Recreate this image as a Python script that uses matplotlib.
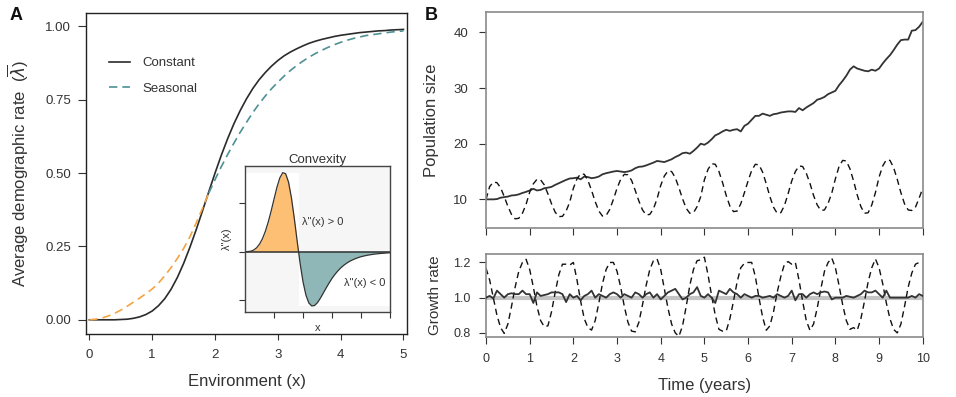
import numpy as np
import matplotlib
matplotlib.use("Agg")
import matplotlib.pyplot as plt
from matplotlib.patches import Rectangle

plt.rcParams['font.family'] = ['Liberation Sans', 'DejaVu Sans']
plt.rcParams['mathtext.fontset'] = 'dejavusans'

# ---- Panel A: average demographic rate along the environment ----
env_x = np.linspace(0, 5, 51)
constant_rate = [0.000, 0.000, 0.000, 0.000, 0.000, 0.001, 0.002, 0.005, 0.010, 0.018,
                 0.030, 0.048, 0.072, 0.104, 0.144, 0.192, 0.247, 0.307, 0.371, 0.436,
                 0.500, 0.561, 0.617, 0.668, 0.713, 0.753, 0.788, 0.818, 0.843, 0.865,
                 0.884, 0.900, 0.913, 0.924, 0.934, 0.943, 0.950, 0.956, 0.961, 0.966,
                 0.970, 0.973, 0.976, 0.979, 0.981, 0.983, 0.985, 0.986, 0.988, 0.989,
                 0.990]
seasonal_rate = [0.000, 0.002, 0.006, 0.013, 0.022, 0.033, 0.046, 0.060, 0.074, 0.089,
                 0.105, 0.125, 0.150, 0.178, 0.209, 0.243, 0.283, 0.330, 0.380, 0.432,
                 0.478, 0.522, 0.563, 0.602, 0.639, 0.673, 0.706, 0.736, 0.763, 0.788,
                 0.810, 0.831, 0.850, 0.867, 0.882, 0.896, 0.908, 0.919, 0.929, 0.938,
                 0.946, 0.953, 0.959, 0.964, 0.969, 0.972, 0.975, 0.978, 0.981, 0.983,
                 0.985]
# second derivative of the rate (inset)
convexity = [0.000, 0.001, 0.005, 0.017, 0.040, 0.078, 0.134, 0.209, 0.306, 0.419,
             0.543, 0.664, 0.762, 0.816, 0.805, 0.718, 0.556, 0.341, 0.104, -0.123,
             -0.313, -0.449, -0.530, -0.561, -0.556, -0.526, -0.480, -0.427, -0.374, -0.323,
             -0.276, -0.235, -0.199, -0.168, -0.142, -0.120, -0.101, -0.086, -0.073, -0.062,
             -0.052, -0.045, -0.038, -0.033, -0.028, -0.024, -0.021, -0.018, -0.016, -0.013,
             -0.012]
split_idx = 19  # seasonal curve drawn orange below the crossing, teal above

# ---- Panel B: monthly time series over 10 years ----
months = np.arange(121)
pop_constant = [10.0, 10.0, 10.0, 10.05, 10.3, 10.4, 10.5, 10.7, 10.75, 10.9, 11.15, 11.35,
                11.6, 11.9, 11.6, 11.7, 12.0, 12.1, 12.25, 12.6, 12.9, 13.2, 13.5, 13.75,
                13.8, 13.9, 13.6, 14.1, 14.0, 13.8, 13.9, 14.1, 14.5, 14.7, 14.85, 15.0,
                15.1, 15.0, 14.9, 15.0, 15.2, 15.6, 15.85, 15.9, 16.1, 16.35, 16.6, 16.9,
                16.8, 16.7, 16.95, 17.2, 17.6, 17.9, 18.3, 18.4, 18.2, 18.7, 19.3, 20.0,
                19.8, 20.2, 20.8, 21.5, 21.8, 22.2, 22.5, 22.3, 22.5, 22.6, 22.2, 23.2,
                23.6, 24.3, 25.0, 25.0, 25.4, 25.2, 25.0, 25.3, 25.4, 25.6, 25.7, 25.8,
                25.8, 25.7, 26.4, 26.0, 26.5, 26.9, 27.3, 27.9, 28.1, 28.4, 28.9, 29.2,
                29.5, 30.5, 31.3, 32.2, 33.3, 33.9, 33.5, 33.3, 33.1, 33.0, 33.3, 33.1,
                33.5, 34.4, 35.2, 35.9, 36.8, 37.8, 38.6, 38.7, 38.7, 40.3, 40.4, 41.0,
                41.9]
pop_seasonal = [10.0, 12.3, 13.1, 13.0, 12.1, 10.5, 8.75, 7.3, 6.5, 6.6, 7.5, 9.1,
                11.3, 12.8, 13.6, 13.5, 12.6, 11.0, 9.2, 7.7, 6.9, 6.95, 7.9, 9.5,
                12.0, 13.7, 14.6, 14.5, 13.4, 11.6, 9.6, 7.9, 7.0, 7.1, 8.2, 10.0,
                12.0, 13.6, 14.5, 14.4, 13.4, 11.6, 9.7, 8.1, 7.2, 7.3, 8.3, 10.1,
                12.5, 14.2, 15.1, 15.0, 13.9, 12.1, 10.1, 8.4, 7.5, 7.6, 8.7, 10.5,
                13.5, 15.4, 16.4, 16.3, 15.0, 13.0, 10.7, 8.8, 7.8, 7.9, 9.2, 11.2,
                13.3, 15.2, 16.3, 16.2, 14.9, 12.8, 10.5, 8.6, 7.5, 7.6, 8.9, 11.0,
                13.3, 15.0, 16.0, 15.9, 14.7, 12.9, 10.7, 9.0, 8.0, 8.1, 9.3, 11.1,
                13.7, 15.9, 17.0, 16.9, 15.5, 13.3, 10.8, 8.7, 7.5, 7.6, 9.0, 11.2,
                14.0, 16.0, 17.1, 17.0, 15.7, 13.6, 11.2, 9.2, 8.1, 8.0, 8.6, 10.2,
                12.0]
growth_constant = [1.00, 1.01, 0.995, 1.04, 1.02, 1.00, 1.02, 1.025, 1.02, 1.02, 1.04, 1.02,
                   1.02, 0.97, 1.03, 1.01, 1.015, 1.02, 1.03, 1.03, 1.03, 1.02, 0.975, 1.02,
                   1.00, 1.01, 0.985, 1.01, 1.02, 1.04, 1.00, 1.02, 1.01, 1.00, 1.02, 1.03,
                   1.02, 1.00, 1.02, 1.01, 1.00, 1.03, 1.02, 1.00, 1.02, 1.03, 1.00, 1.02,
                   0.99, 1.01, 1.03, 1.04, 1.05, 1.02, 0.99, 1.00, 1.02, 1.03, 1.06, 1.01,
                   1.00, 1.02, 1.00, 0.97, 1.04, 1.03, 1.02, 1.05, 1.03, 1.02, 1.00, 1.02,
                   1.01, 1.00, 1.01, 1.01, 1.00, 1.005, 1.01, 1.00, 1.02, 1.01, 1.00, 1.01,
                   1.04, 0.985, 1.02, 1.02, 1.00, 1.02, 1.03, 1.02, 1.03, 1.035, 1.03, 0.99,
                   1.00, 1.00, 1.00, 1.01, 1.005, 1.00, 1.01, 1.02, 1.04, 1.03, 1.03, 1.04,
                   1.02, 1.00, 1.04, 1.00, 1.00, 1.00, 1.00, 1.00, 1.00, 1.01, 1.00, 1.02,
                   1.01]
growth_seasonal = [1.167, 1.10, 1.00, 0.90, 0.83, 0.797, 0.85, 0.95, 1.06, 1.15, 1.20, 1.218,
                   1.16, 1.06, 0.95, 0.87, 0.835, 0.84, 0.92, 1.03, 1.13, 1.19, 1.19, 1.185,
                   1.20, 1.10, 0.98, 0.88, 0.83, 0.816, 0.87, 0.97, 1.08, 1.16, 1.20, 1.20,
                   1.15, 1.06, 0.95, 0.86, 0.81, 0.806, 0.86, 0.96, 1.07, 1.16, 1.21, 1.22,
                   1.16, 1.05, 0.94, 0.85, 0.80, 0.78, 0.84, 0.95, 1.07, 1.16, 1.21, 1.215,
                   1.23, 1.13, 1.01, 0.90, 0.82, 0.81, 0.81, 0.88, 0.98, 1.09, 1.17, 1.195,
                   1.20, 1.20, 1.12, 1.00, 0.89, 0.815, 0.84, 0.92, 1.03, 1.12, 1.19, 1.205,
                   1.19, 1.20, 1.10, 0.98, 0.87, 0.815, 0.85, 0.94, 1.05, 1.15, 1.20, 1.225,
                   1.17, 1.07, 0.96, 0.87, 0.82, 0.83, 0.815, 0.88, 0.98, 1.09, 1.17, 1.22,
                   1.17, 1.08, 0.97, 0.88, 0.82, 0.80, 0.85, 0.95, 1.06, 1.14, 1.19, 1.20,
                   1.20]

TXT = '#333333'
ORANGE = '#F4A443'
TEAL = '#4D9194'
FILL_OR = '#FDBF73'
FILL_TE = '#8FB7B7'
FRAME_B = '#8a8a8a'


def style_ticks(ax, size):
    ax.tick_params(colors=TXT, labelcolor=TXT, labelsize=size, width=0.8)


def draw_panel_a(fig):
    ax = fig.add_axes([0.090, 0.159, 0.336, 0.809])
    ax.plot(env_x, constant_rate, color='#2b2b2b', lw=1.2, label='Constant')
    ax.plot(env_x[:split_idx + 1], seasonal_rate[:split_idx + 1], color=ORANGE,
            lw=1.2, ls=(0, (5, 3)))
    ax.plot(env_x[split_idx:], seasonal_rate[split_idx:], color=TEAL,
            lw=1.2, ls=(0, (5, 3)), label='Seasonal')
    ax.set_xlim(-0.053, 5.06)
    ax.set_ylim(-0.048, 1.047)
    ax.set_xticks([0, 1, 2, 3, 4, 5])
    ax.set_yticks([0, 0.25, 0.5, 0.75, 1.0])
    ax.set_yticklabels(['0.00', '0.25', '0.50', '0.75', '1.00'])
    style_ticks(ax, 9.5)
    ax.tick_params(axis='y', length=6, pad=5)
    ax.tick_params(axis='x', length=4, pad=7)
    for s in ax.spines.values():
        s.set_color('#222222')
        s.set_linewidth(1.0)
    ax.set_xlabel('Environment (x)', fontsize=12, color=TXT, labelpad=9)
    ax.set_ylabel(r'Average demographic rate  ($\overline{\lambda}$)', fontsize=12,
                  color=TXT, labelpad=10)
    ax.legend(loc='upper left', bbox_to_anchor=(0.056, 0.878), frameon=False,
              fontsize=9.5, handlelength=1.6, handletextpad=0.9, labelspacing=1.0,
              labelcolor=TXT, borderaxespad=0)

    # inset: convexity of the rate
    ins = fig.add_axes([0.2563, 0.2149, 0.1517, 0.3678])
    ins.set_facecolor('#f6f6f6')
    cv = np.array(convexity)
    zero_x = np.interp(0, cv[::-1], env_x[::-1])
    ins.add_patch(Rectangle((0, 0), zero_x, cv.max(), color='white', lw=0, zorder=0))
    ins.add_patch(Rectangle((zero_x, cv.min()), 5 - zero_x, -cv.min(), color='white',
                            lw=0, zorder=0))
    ins.fill_between(env_x, cv, 0, where=cv >= 0, interpolate=True, color=FILL_OR, lw=0)
    ins.fill_between(env_x, cv, 0, where=cv <= 0, interpolate=True, color=FILL_TE, lw=0)
    ins.plot(env_x, cv, color='#333333', lw=0.9)
    ins.axhline(0, color='#333333', lw=1.1)
    ins.set_xlim(0, 5)
    ins.set_ylim(-0.62, 0.888)
    ins.set_xticks([1, 2, 3, 4, 5])
    ins.set_yticks([-0.5, 0, 0.5])
    ins.set_xticklabels([])
    ins.set_yticklabels([])
    ins.tick_params(colors=TXT, length=4, width=0.8)
    for s in ins.spines.values():
        s.set_color('#444444')
        s.set_linewidth(1.0)
    ins.set_title('Convexity', fontsize=9.5, color=TXT, pad=1.5)
    ins.set_xlabel('x', fontsize=8, color=TXT, labelpad=1)
    ins.set_ylabel('\u03bb"(x)', fontsize=8, color=TXT, labelpad=2)
    ins.text(1.95, 0.31, '\u03bb"(x) > 0', fontsize=8, color=TXT, va='center')
    ins.text(3.4, -0.32, '\u03bb"(x) < 0', fontsize=8, color=TXT, va='center')
    fig.text(0.010, 0.962, 'A', fontsize=13, fontweight='bold', color='#111111',
             va='center')


def draw_panel_b(fig):
    t = months / 12

    top = fig.add_axes([0.5084, 0.4249, 0.4568, 0.5441])
    top.plot(t, pop_constant, color='#333333', lw=1.3)
    top.plot(t, pop_seasonal, color='#111111', lw=1.0, ls=(0, (4.5, 3)))
    top.set_xlim(0, 10)
    top.set_ylim(4.8, 43.6)
    top.set_xticks(range(11))
    top.set_xticklabels([])
    top.set_yticks([10, 20, 30, 40])
    style_ticks(top, 9.5)
    top.tick_params(length=5, pad=8)
    for s in top.spines.values():
        s.set_color(FRAME_B)
        s.set_linewidth(1.2)
    top.set_ylabel('Population size', fontsize=12, color=TXT, labelpad=10)

    bot = fig.add_axes([0.5084, 0.1504, 0.4568, 0.2098])
    bot.axhline(1.0, color='#c4c4c4', lw=3, zorder=1)
    bot.plot(t, growth_constant, color='#333333', lw=1.3, zorder=3)
    bot.plot(t, growth_seasonal, color='#111111', lw=1.0, ls=(0, (4.5, 3)), zorder=2)
    bot.set_xlim(0, 10)
    bot.set_ylim(0.775, 1.248)
    bot.set_xticks(range(11))
    bot.set_yticks([0.8, 1.0, 1.2])
    style_ticks(bot, 9)
    bot.tick_params(length=5, pad=6)
    for s in bot.spines.values():
        s.set_color(FRAME_B)
        s.set_linewidth(1.2)
    bot.set_ylabel('Growth rate', fontsize=11, color=TXT, labelpad=8)
    bot.set_xlabel('Time (years)', fontsize=12, color=TXT, labelpad=10)
    fig.text(0.444, 0.962, 'B', fontsize=13, fontweight='bold', color='#111111',
             va='center')


def main():
    fig = plt.figure(figsize=(9.56, 3.97), dpi=100)
    draw_panel_a(fig)
    draw_panel_b(fig)
    fig.savefig('out.png', dpi=100, facecolor='white')


if __name__ == "__main__":
    main()
